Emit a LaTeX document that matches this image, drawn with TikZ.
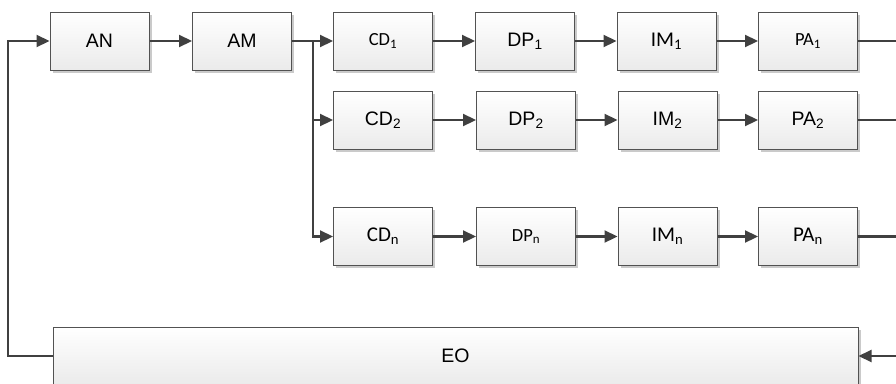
\documentclass[tikz,border=0pt]{standalone}
\usepackage{fontspec}
\setmainfont{Liberation Sans}
\newfontfamily\calfont{Carlito}
\usetikzlibrary{arrows.meta,shadows}
\tikzset{
  blk/.style={draw=black!68, line width=1pt, top color=white, bottom color=black!8,
    minimum width=99pt, minimum height=58pt, inner sep=0pt,
    drop shadow={shadow xshift=2.5pt, shadow yshift=-2.5pt, fill=black!35, opacity=0.6},
    font=\fontsize{19.5}{21}\selectfont},
  cbig/.style={font=\calfont\fontsize{21}{23}\selectfont},
  csmall/.style={font=\calfont\fontsize{18.5}{20}\selectfont},
  conn/.style={draw=black!75, line width=2.2pt},
  arr/.style={conn, -{Triangle[length=13pt,width=12pt]}}
}
\begin{document}
\begin{tikzpicture}[x=1pt,y=-1pt]
\useasboundingbox (0,0) rectangle (896,383);
\node[blk] (AN) at (99.5,41) {AN};
\node[blk] (AM) at (242,41) {AM};
\node[blk,csmall] (CD1) at (383,41) {CD\textsubscript{1}};
\node[blk] (DP1) at (525,41) {DP\textsubscript{1}};
\node[blk,cbig] (IM1) at (666.5,41) {IM\textsubscript{1}};
\node[blk,csmall] (PA1) at (808,41) {PA\textsubscript{1}};
\node[blk] (CD2) at (383,120) {CD\textsubscript{2}};
\node[blk] (DP2) at (526,120) {DP\textsubscript{2}};
\node[blk] (IM2) at (667.5,120) {IM\textsubscript{2}};
\node[blk] (PA2) at (808,120) {PA\textsubscript{2}};
\node[blk,cbig] (CDn) at (383,236.5) {CD\textsubscript{n}};
\node[blk,csmall] (DPn) at (526,236.5) {DP\textsubscript{n}};
\node[blk,cbig] (IMn) at (667.5,236.5) {IM\textsubscript{n}};
\node[blk,cbig] (PAn) at (808,236.5) {PA\textsubscript{n}};
\node[blk, minimum width=805pt] (EO) at (455.5,356) {EO};
\coordinate (br) at (313,41);
\coordinate (rt) at (898,41);
\coordinate (lf) at (8,41);
% connectors
\draw[arr] (AN) -- (AM);
\draw[conn] (AM.east) -- (br);
\draw[arr] (br) -- (CD1);
\draw[arr] (br) |- (CD2.west);
\draw[arr] (br) |- (CDn.west);
\draw[arr] (CD1) -- (DP1);
\draw[arr] (DP1) -- (IM1);
\draw[arr] (IM1) -- (PA1);
\draw[arr] (CD2) -- (DP2);
\draw[arr] (DP2) -- (IM2);
\draw[arr] (IM2) -- (PA2);
\draw[arr] (CDn) -- (DPn);
\draw[arr] (DPn) -- (IMn);
\draw[arr] (IMn) -- (PAn);
\draw[conn] (PA1.east) -- (rt);
\draw[conn] (PA2.east) -- (PA2.east -| rt);
\draw[conn] (PAn.east) -- (PAn.east -| rt);
\draw[arr] (rt) |- (EO.east);
\draw[arr] (EO.west) -| (lf) -- (AN.west);
\end{tikzpicture}
\end{document}
